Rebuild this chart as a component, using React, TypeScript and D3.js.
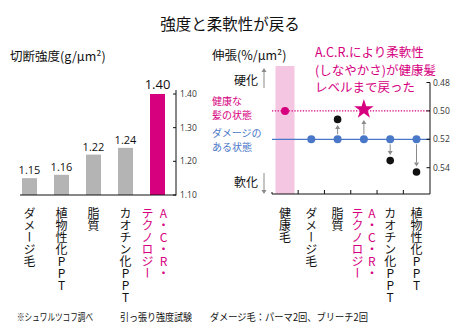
import React from "react";
import * as d3 from "d3";

const title = "強度と柔軟性が戻る";
const leftTitle = "切断強度(g/μm²)";
const rightTitle = "伸張(%/μm²)";

const catsL = ["ダメージ毛", "植物性化PPT", "脂質", "カオチン化PPT", "A・C・R・|テクノロジー"];
const strength = [1.15, 1.16, 1.22, 1.24, 1.4];
const ticksL = [1.1, 1.2, 1.3, 1.4];

const catsR = ["健康毛", "ダメージ毛", "脂質", "A・C・R・|テクノロジー", "カオチン化PPT", "植物性化PPT"];
const elongation = [0.5, 0.52, 0.506, 0.5, 0.535, 0.543];
const ticksR = [0.48, 0.5, 0.52, 0.54];
const healthyLevel = 0.5;
const damagedLevel = 0.52;

const note = ["A.C.R.により柔軟性", "(しなやかさ)が健康髪", "レベルまで戻った"];
const healthyText = ["健康な", "髪の状態"];
const damagedText = ["ダメージの", "ある状態"];
const footer = ["※シュワルツコフ調べ", "引っ張り強度試験", "ダメージ毛：パーマ2回、ブリーチ2回"];

const MAG = "#d6007f";
const PINK = "#f5c6e1";
const BLUE = "#4a78c8";
const GRAY = "#b4b4b4";
const ARROW = "#8a8a8a";
const FONT = "'Noto Sans CJK JP', 'Noto Sans', sans-serif";
const NUMFONT = "'Open Sans', 'Noto Sans', sans-serif";

const isACR = (c: string) => c.includes("|");

function Arrow({ x, y1, y2 }: { x: number; y1: number; y2: number }) {
  const dir = y2 < y1 ? -1 : 1;
  const hl = 4;
  return (
    <g>
      <line x1={x} y1={y1} x2={x} y2={y2 - dir * hl} stroke={ARROW} strokeWidth={1} />
      <path d={`M${x - 2.5},${y2 - dir * hl} L${x + 2.5},${y2 - dir * hl} L${x},${y2} Z`} fill={ARROW} />
    </g>
  );
}

function VLabel({ x, y, text, color, offs }: { x: number; y: number; text: string; color: string; offs: number[] }) {
  const cols = text.split("|");
  return (
    <g>
      {cols.map((c, i) => (
        <text
          key={i}
          x={x + (cols.length > 1 ? offs[i] : 0)}
          y={y}
          fill={color}
          fontSize={12}
          fontFamily={FONT}
          style={{ writingMode: "vertical-rl", textOrientation: "upright" } as any}
        >
          {c}
        </text>
      ))}
    </g>
  );
}

export default function App() {
  // left chart scales
  const xL = d3.scalePoint<string>().domain(catsL).range([29.5, 157.5]);
  const yL = d3.scaleLinear().domain([1.1, 1.4]).range([195, 94]);
  const barW = 15;
  const axisXL = 176;

  // right chart scales
  const xR = d3.scalePoint<string>().domain(catsR).range([285, 416.5]);
  const yR = d3.scaleLinear().domain([0.48, 0.54]).range([82.5, 167.7]);
  const axisXR = 430;
  const baseR = 194;
  const leftR = 272;
  const step = xR.step();
  const star = d3.symbol().type(d3.symbolStar).size(120)()!;

  return (
    <svg width={460} height={330} style={{ position: "absolute", left: 0, top: 0, background: "#fff" }}>
      <text x={230} y={30} textAnchor="middle" fontSize={15.5} fontFamily={FONT} fill="#111">
        {title}
      </text>

      {/* LEFT CHART */}
      <text x={10} y={61} fontSize={12.5} fontFamily={FONT} fill="#111">{leftTitle}</text>
      {catsL.map((c, i) => {
        const acr = isACR(c);
        const x = xL(c)!;
        return (
          <g key={c}>
            <rect x={x - barW / 2} y={yL(strength[i])} width={barW} height={yL(1.1) - yL(strength[i])} fill={acr ? MAG : GRAY} />
            <text
              x={x}
              y={yL(strength[i]) - (acr ? 5 : 4)}
              textAnchor="middle"
              fontSize={acr ? 13 : 11}
              fontFamily={NUMFONT}
              fill="#111"
            >
              {strength[i].toFixed(2)}
            </text>
            <VLabel x={x} y={207} text={c} color={acr ? MAG : "#111"} offs={[6, -10]} />
          </g>
        );
      })}
      <line x1={20} x2={axisXL} y1={195} y2={195} stroke="#111" strokeWidth={1} />
      <line x1={axisXL} x2={axisXL} y1={90} y2={195.5} stroke="#111" strokeWidth={1} />
      {ticksL.map((t) => (
        <g key={t}>
          <line x1={axisXL - 3} x2={axisXL} y1={yL(t)} y2={yL(t)} stroke="#111" />
          <text x={180} y={yL(t) + 3} fontSize={8.5} fontFamily={NUMFONT} fill="#333">
            {t.toFixed(2)}
          </text>
        </g>
      ))}

      {/* RIGHT CHART */}
      <text x={212} y={60} fontSize={12.5} fontFamily={FONT} fill="#111">{rightTitle}</text>
      <rect x={xR(catsR[0])! - 9.5} y={66} width={19} height={baseR - 66} fill={PINK} />
      {note.map((n, i) => (
        <text key={n} x={315} y={57 + i * 17.5} fontSize={12.5} fontFamily={FONT} fill={MAG}>
          {n}
        </text>
      ))}
      <text x={258} y={85} textAnchor="end" fontSize={12} fontFamily={FONT} fill="#111">硬化</text>
      <Arrow x={264} y1={88} y2={68} />
      <text x={258} y={187} textAnchor="end" fontSize={12} fontFamily={FONT} fill="#111">軟化</text>
      <Arrow x={264} y1={173} y2={194} />
      {healthyText.map((t, i) => (
        <text key={t} x={212} y={105 + i * 14} fontSize={10} fontFamily={FONT} fill={MAG}>{t}</text>
      ))}
      {damagedText.map((t, i) => (
        <text key={t} x={212} y={137 + i * 13.5} fontSize={10} fontFamily={FONT} fill={BLUE}>{t}</text>
      ))}

      <line x1={leftR} x2={axisXR} y1={yR(healthyLevel)} y2={yR(healthyLevel)} stroke={MAG} strokeWidth={1.2} strokeDasharray="1.3 1.5" />
      <line x1={leftR} x2={axisXR} y1={yR(damagedLevel)} y2={yR(damagedLevel)} stroke={BLUE} strokeWidth={1.2} />

      {/* axes */}
      <line x1={leftR} x2={axisXR} y1={baseR} y2={baseR} stroke="#111" />
      <line x1={leftR} x2={leftR} y1={baseR - 2} y2={baseR} stroke="#111" />
      <line x1={axisXR} x2={axisXR} y1={yR(0.48)} y2={baseR} stroke="#111" />
      {catsR.slice(1).map((c) => (
        <line key={c} x1={xR(c)! - step / 2} x2={xR(c)! - step / 2} y1={baseR - 4} y2={baseR} stroke="#111" />
      ))}
      {ticksR.map((t) => (
        <g key={t}>
          <line x1={axisXR - 3.5} x2={axisXR} y1={yR(t)} y2={yR(t)} stroke="#111" />
          <text x={433} y={yR(t) + 3} fontSize={8.5} fontFamily={NUMFONT} fill="#333">
            {t.toFixed(2)}
          </text>
        </g>
      ))}

      {catsR.map((c, i) => {
        const x = xR(c)!;
        const v = elongation[i];
        const acr = isACR(c);
        if (i === 0) {
          return (
            <g key={c}>
              <circle cx={x} cy={yR(v)} r={4} fill={MAG} />
              <VLabel x={x} y={207} text={c} color="#111" offs={[0, 0]} />
            </g>
          );
        }
        const yb = yR(damagedLevel);
        const yv = yR(v);
        const up = yv < yb;
        const gap = acr ? 9 : 5.5;
        return (
          <g key={c}>
            {v !== damagedLevel && (
              <Arrow x={x} y1={up ? yb - 5 : yb + 5} y2={up ? yv + gap : yv - gap} />
            )}
            <circle cx={x} cy={yb} r={4} fill={BLUE} />
            {v !== damagedLevel &&
              (acr ? (
                <path d={star} transform={`translate(${x},${yv - 1.5})`} fill={MAG} />
              ) : (
                <circle cx={x} cy={yv} r={3.8} fill="#111" />
              ))}
            <VLabel x={x} y={207} text={c} color={acr ? MAG : "#111"} offs={[8, -6.5]} />
          </g>
        );
      })}

      {/* footer */}
      <text x={17} y={321} fontSize={10} fontFamily={FONT} fill="#111" textLength={76} lengthAdjust="spacingAndGlyphs">{footer[0]}</text>
      <text x={120} y={321} fontSize={10} fontFamily={FONT} fill="#111" textLength={72} lengthAdjust="spacingAndGlyphs">{footer[1]}</text>
      <text x={210} y={321} fontSize={10} fontFamily={FONT} fill="#111" textLength={158} lengthAdjust="spacingAndGlyphs">{footer[2]}</text>
    </svg>
  );
}
